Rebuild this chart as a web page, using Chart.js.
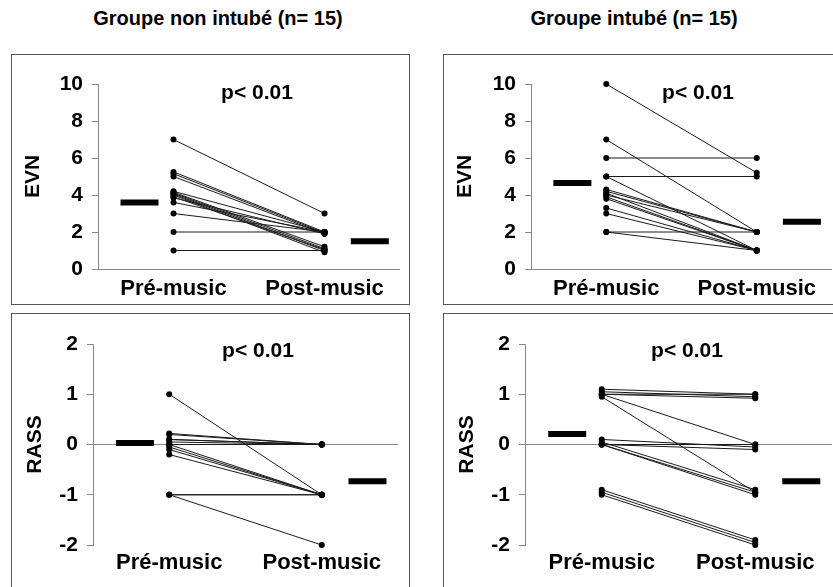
<!DOCTYPE html>
<html>
<head>
<meta charset="utf-8">
<script src="https://cdn.jsdelivr.net/npm/chart.js@4.4.0/dist/chart.umd.min.js"></script>
<style>
  body { margin: 0; background: #fff; width: 833px; height: 587px; overflow: hidden; position: relative;
         font-family: "Liberation Sans", Arial, sans-serif; }
  .head { position: absolute; top: 6px; width: 340px; text-align: center; font-weight: bold; font-size: 20px; line-height: 24px; }
  .box { position: absolute; border: 1px solid #555; box-sizing: border-box; }
  .pv { position: absolute; width: 120px; text-align: center; font-weight: bold; font-size: 21px; line-height: 24px; }
  canvas { position: absolute; }
</style>
</head>
<body>
<div class="head" style="left:48px">Groupe non intubé (n= 15)</div>
<div class="head" style="left:464px">Groupe intubé (n= 15)</div>

<div class="box" style="left:11px;top:54px;width:399px;height:251px"></div>
<div class="box" style="left:443px;top:54px;width:402px;height:251px"></div>
<div class="box" style="left:11px;top:313px;width:399px;height:290px"></div>
<div class="box" style="left:443px;top:313px;width:402px;height:290px"></div>

<canvas id="c1" width="396" height="248" style="left:12px;top:55px"></canvas>
<canvas id="c2" width="400" height="248" style="left:444px;top:55px"></canvas>
<canvas id="c3" width="396" height="273" style="left:12px;top:314px"></canvas>
<canvas id="c4" width="400" height="273" style="left:444px;top:314px"></canvas>

<div class="pv" style="left:197px;top:80px">p&lt; 0.01</div>
<div class="pv" style="left:638px;top:80px">p&lt; 0.01</div>
<div class="pv" style="left:198px;top:338px">p&lt; 0.01</div>
<div class="pv" style="left:627px;top:338px">p&lt; 0.01</div>

<script>
// categories on the x axis
var axisLabels = ["Pré-music", "Post-music"];

// EVN, groupe non intubé
var evnNonPre  = [7, 5.25, 5.15, 5, 4.2, 4.15, 4.1, 4.05, 4, 3.9, 3.85, 3.6, 3, 2, 1];
var evnNonPost = [3, 2, 1.95, 1.9, 2, 1.2, 1.1, 1, 0.9, 1.05, 1.9, 2, 2, 2, 1];
var evnNonMean = [3.6, 1.5];

// EVN, groupe intubé
var evnIntPre  = [10, 7, 6, 5, 5, 4.3, 4.2, 4.1, 4, 3.9, 3.8, 3.3, 3, 2, 2];
var evnIntPost = [5.2, 2, 6, 5, 1, 2, 2, 1, 2, 1, 1, 1, 1, 2, 1];
var evnIntMean = [4.65, 2.55];

// RASS, groupe non intubé
var rassNonPre  = [1, 0.22, 0.2, 0.1, 0.1, 0.05, 0, 0, 0, -0.05, -0.1, -0.2, -1, -1, -1];
var rassNonPost = [-1, 0, 0, 0, 0, 0, 0, 0, -1, -1, -1, -1, -1, -1, -2];
var rassNonMean = [0.03, -0.73];

// RASS, groupe intubé
var rassIntPre  = [1.1, 1.05, 1, 1, 1, 0.95, 0.1, 0.05, 0, 0, 0, 0, -0.9, -0.95, -1];
var rassIntPost = [1, 0.95, 0.92, 1, 0, -0.95, -0.05, -0.9, -0.95, -1, -0.1, 0, -1.9, -1.95, -2];
var rassIntMean = [0.21, -0.73];

// x positions of the groups on a 0..4 axis
var prePos = 1, postPos = 3, meanPos = [0.55, 3.6];

function makePanel(id, pre, post, mean, yMin, yMax, yStep, yTitle, g) {
  var datasets = [];
  for (var i = 0; i < pre.length; i++) {
    datasets.push({
      type: "line",
      data: [{ x: prePos, y: pre[i] }, { x: postPos, y: post[i] }],
      borderColor: "#1a1a1a",
      borderWidth: 1,
      pointRadius: 3,
      pointBackgroundColor: "#000",
      pointBorderWidth: 0,
      clip: false
    });
  }
  // mean bars
  datasets.push({
    type: "scatter",
    data: [{ x: meanPos[0], y: mean[0] }, { x: meanPos[1], y: mean[1] }],
    pointStyle: "line",
    pointRadius: 19,
    pointBorderWidth: 6,
    pointBorderColor: "#000",
    clip: false
  });

  new Chart(document.getElementById(id), {
    type: "line",
    data: { datasets: datasets },
    options: {
      responsive: false,
      animation: false,
      layout: { autoPadding: false, padding: { top: g.top, right: g.right, left: 0, bottom: 0 } },
      plugins: { legend: { display: false }, tooltip: { enabled: false } },
      scales: {
        x: {
          type: "linear",
          min: 0,
          max: 4,
          afterBuildTicks: function (scale) {
            scale.ticks = [{ value: prePos }, { value: postPos }];
          },
          afterFit: function (scale) {
            scale.height = g.xh;
            scale.paddingLeft = 0;
            scale.paddingRight = 0;
          },
          ticks: {
            autoSkip: false,
            maxRotation: 0,
            padding: g.xpad,
            color: "#000",
            font: { family: "Liberation Sans", size: 22, weight: "bold" },
            callback: function (v) { return v === prePos ? axisLabels[0] : axisLabels[1]; }
          },
          grid: { display: false, drawTicks: false },
          border: { display: false }
        },
        y: {
          min: yMin,
          max: yMax,
          afterFit: function (scale) { scale.width = g.yw; },
          ticks: {
            stepSize: yStep,
            padding: 9,
            color: "#000",
            font: { family: "Liberation Sans", size: 21, weight: "bold" }
          },
          grid: {
            tickLength: 6,
            tickColor: "#888",
            color: function (ctx) { return ctx.tick && ctx.tick.value === 0 ? "#888" : "rgba(0,0,0,0)"; }
          },
          border: { display: true, color: "#888" },
          title: {
            display: true,
            text: yTitle,
            color: "#000",
            padding: { top: g.tpad },
            font: { family: "Liberation Sans", size: 21, weight: "bold" }
          }
        }
      }
    }
  });
}

makePanel("c1", evnNonPre, evnNonPost, evnNonMean, 0, 10, 2, "EVN", { top: 29, right: 8, xh: 34, yw: 86, xpad: 7, tpad: 9 });
makePanel("c2", evnIntPre, evnIntPost, evnIntMean, 0, 10, 2, "EVN", { top: 29, right: 12, xh: 34, yw: 87, xpad: 7, tpad: 9 });
makePanel("c3", rassNonPre, rassNonPost, rassNonMean, -2, 2, 1, "RASS", { top: 30, right: 10, xh: 42, yw: 81, xpad: 5, tpad: 11 });
makePanel("c4", rassIntPre, rassIntPost, rassIntMean, -2, 2, 1, "RASS", { top: 30, right: 12, xh: 42, yw: 81, xpad: 5, tpad: 11 });
</script>
</body>
</html>
